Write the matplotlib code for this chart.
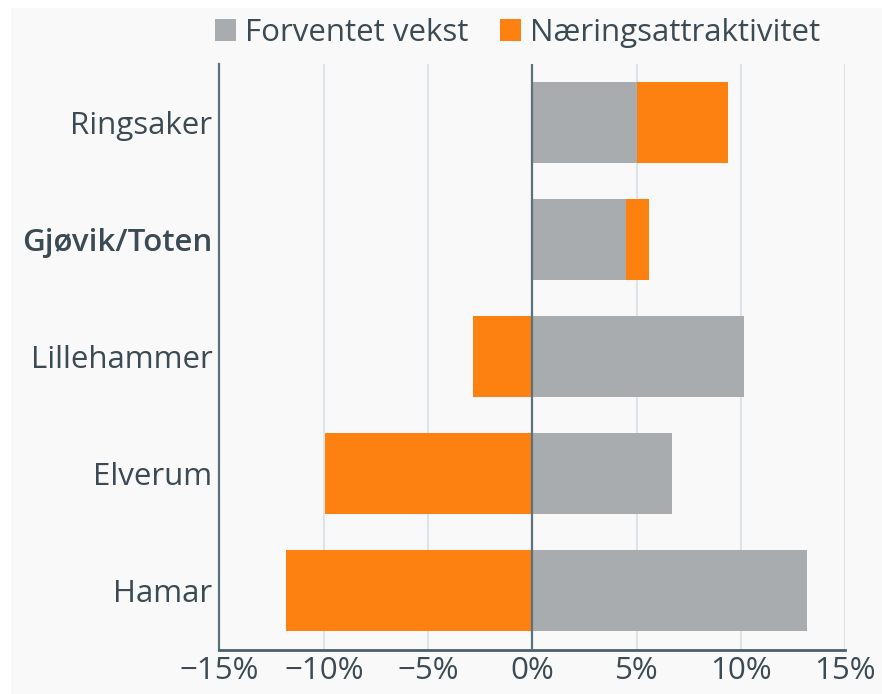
import matplotlib
matplotlib.use("Agg")
import matplotlib.pyplot as plt
from matplotlib.patches import Rectangle, Patch
from matplotlib.ticker import FuncFormatter

plt.rcParams['font.family'] = ['Open Sans', 'DejaVu Sans']

regions = ["Ringsaker", "Gjøvik/Toten", "Lillehammer", "Elverum", "Hamar"]
forventet_vekst = [5.0, 4.5, 10.15, 6.7, 13.15]
naeringsattraktivitet = [4.4, 1.1, -2.85, -9.95, -11.8]
xticks = [-15, -10, -5, 0, 5, 10, 15]
series_names = ["Forventet vekst", "Næringsattraktivitet"]

GRAY = "#a8acaf"
ORANGE = "#fd8110"
TEXT = "#3c4a53"
SPINE = "#5d717d"
GRID = "#dde3e7"
BG = "#f9f9f9"
FS = 22.5

fig = plt.figure(figsize=(8.82, 6.94), dpi=100)
fig.patch.set_facecolor("white")
fig.patches.append(Rectangle((11/882, 0), 1, 1 - 8/694, transform=fig.transFigure,
                             facecolor=BG, edgecolor="none", zorder=-10))

ax = fig.add_axes([219.4/882, 1 - 649.5/694, (845.2 - 219.4)/882, (649.5 - 63.5)/694])
ax.set_facecolor(BG)

y = list(range(len(regions)))
h = 0.69
# stacking: positives stack on top of positive gray, negatives start at zero
left_orange = [fv if n >= 0 else 0 for fv, n in zip(forventet_vekst, naeringsattraktivitet)]
ax.barh(y, forventet_vekst, height=h, color=GRAY, zorder=3, label=series_names[0])
ax.barh(y, naeringsattraktivitet, left=left_orange, height=h, color=ORANGE, zorder=3,
        label=series_names[1])

ax.set_xlim(-15, 15)
ax.set_ylim(len(regions) - 0.5, -0.5)
ax.set_yticks(y)
ax.set_yticklabels(regions)
ax.set_xticks(xticks)
ax.xaxis.set_major_formatter(FuncFormatter(lambda v, p: f"{int(v)}%".replace("-", "\u2212")))

ax.grid(axis="x", color=GRID, linewidth=1.5, zorder=0)
ax.axvline(0, color=SPINE, linewidth=1.6, zorder=4)
for s in ["top", "right"]:
    ax.spines[s].set_visible(False)
ax.spines["left"].set_color(SPINE)
ax.spines["left"].set_linewidth(1.6)
ax.spines["bottom"].set_color("#4d5f6a")
ax.spines["bottom"].set_linewidth(2)
ax.tick_params(axis="both", length=0, colors=TEXT, labelsize=FS)
ax.tick_params(axis="y", pad=5)
ax.tick_params(axis="x", pad=5)
for lbl in ax.get_yticklabels():
    lbl.set_color(TEXT)
ax.get_yticklabels()[1].set_fontweight("semibold")

handles = [Patch(facecolor=GRAY), Patch(facecolor=ORANGE)]
fig.legend(handles, series_names, loc="center", bbox_to_anchor=(517.5/882, 1 - 33/694),
           ncol=2, frameon=False, fontsize=FS, labelcolor=TEXT,
           handlelength=0.67, handleheight=0.67, handletextpad=0.3, columnspacing=1.0,
           borderpad=0, borderaxespad=0)

fig.savefig("out.png", dpi=100, facecolor=fig.get_facecolor())
